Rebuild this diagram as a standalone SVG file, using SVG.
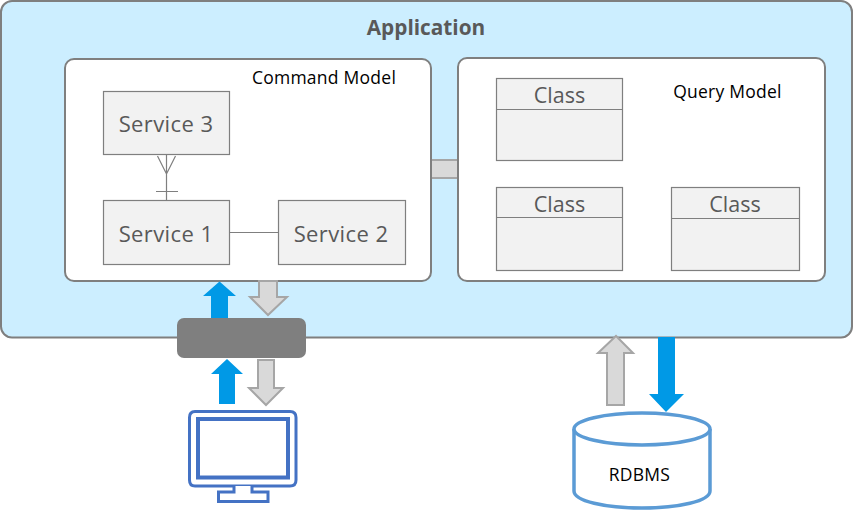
<svg xmlns="http://www.w3.org/2000/svg" width="853" height="519" viewBox="0 0 853 519">
<style>
text{font-family:"Open Sans","Noto Sans","Liberation Sans",sans-serif}
.panel{fill:#fff;stroke:#7f7f7f;stroke-width:2}
.box{fill:#f2f2f2;stroke:#7f7f7f;stroke-width:1.2}
.lbl{font-size:22px;fill:#595959;text-anchor:middle;letter-spacing:.4px}
.cls{font-size:21.500px;fill:#595959;text-anchor:middle}
.small{font-size:17.500px;fill:#000;text-anchor:middle;letter-spacing:.25px}
.ln{stroke:#7f7f7f;stroke-width:1.2;fill:none}
.blue{fill:#0099e6}
.grey{fill:#d9d9d9;stroke:#a6a6a6;stroke-width:2}
</style>
<rect width="853" height="519" fill="#fff"/>
<g id="application">
<rect x="1" y="1" width="851" height="336.500" rx="11" fill="#cceeff" stroke="#7f7f7f" stroke-width="2"/>
<text x="426" y="34.500" font-size="20.800" font-weight="700" fill="#595959" text-anchor="middle">Application</text>
</g>
<g id="link-models"><rect x="431" y="160" width="27" height="18" class="grey"/></g>
<g id="command-model">
<rect x="65" y="59" width="366" height="222" rx="9" class="panel"/>
<text x="324" y="84" class="small">Command Model</text>
</g>
<g id="query-model">
<rect x="458" y="58" width="367" height="223" rx="9" class="panel"/>
<text x="727.500" y="97.500" class="small">Query Model</text>
</g>
<g id="service-3"><rect x="103.500" y="91.500" width="126" height="63" class="box"/><text x="166" y="132" class="lbl">Service 3</text></g>
<g id="service-1"><rect x="103.500" y="200.500" width="126" height="64" class="box"/><text x="166" y="242" class="lbl">Service 1</text></g>
<g id="service-2"><rect x="278.500" y="200.500" width="127" height="64" class="box"/><text x="341" y="242" class="lbl">Service 2</text></g>
<g id="class-1"><rect x="496.500" y="78.500" width="126" height="82" class="box"/><line x1="496.500" y1="109.500" x2="622.500" y2="109.500" class="ln"/><text x="559.500" y="103" class="cls">Class</text></g>
<g id="class-2"><rect x="496.500" y="187.500" width="126" height="83" class="box"/><line x1="496.500" y1="217.500" x2="622.500" y2="217.500" class="ln"/><text x="559.500" y="212" class="cls">Class</text></g>
<g id="class-3"><rect x="671.500" y="187.500" width="128" height="83" class="box"/><line x1="671.500" y1="218.500" x2="799.500" y2="218.500" class="ln"/><text x="735" y="212" class="cls">Class</text></g>
<g id="connectors">
<path class="ln" d="M166.500 154.500V200.500M157.500 156L166.500 174L175.500 156M156 191.500H178M229.500 232.500H278.500"/>
<path class="blue" d="M211 318V296H203L219.500 281.500L236 296H228V318Z"/>
<path class="grey" d="M259 281H277V297H287L268 315L250 297H259Z"/>
<path class="blue" d="M219 404V374H211L227 359L243 374H235V404Z"/>
<path class="grey" d="M258 360H274V388H283L266 405L249 388H258Z"/>
<path class="grey" d="M607 405V353H598L616 336L633 353H624V405Z"/>
<path class="blue" d="M658 337H675V394H684L666 412L649 394H658Z"/>
</g>
<g id="gateway"><rect x="177" y="318" width="129" height="40" rx="7" fill="#7f7f7f"/></g>
<g id="monitor" fill="none" stroke="#4472c4" stroke-width="3">
<path d="M195 411.500H290Q296 411.500 296 417.500V480Q296 486 290 486H195Q189.500 486 189.500 480V417.500Q189.500 411.500 195 411.500Z" fill="#fff"/>
<rect x="198" y="419" width="90" height="58.500" stroke-width="4"/>
<path d="M234 486V492H218.500V501.500H268V492H252V486" fill="#fff"/>
</g>
<g id="rdbms">
<path d="M574 429V491C574 501 605 508 642 508C679 508 710 501 710 491V429" fill="#fff" stroke="#5b9bd5" stroke-width="3.500"/>
<ellipse cx="642" cy="429" rx="68" ry="16" fill="#fff" stroke="#5b9bd5" stroke-width="3.500"/>
<text x="639.500" y="481" class="small">RDBMS</text>
</g>
</svg>
